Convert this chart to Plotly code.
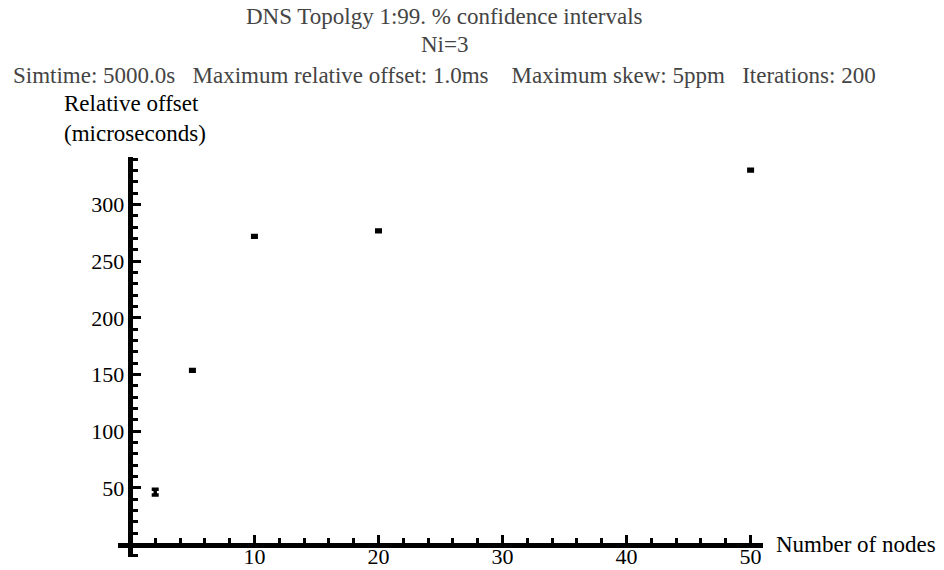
import plotly.graph_objects as go

# Data
nodes = [2, 5, 10, 20, 50]
offset_us = [46.2, 153.7, 272.0, 276.8, 330.4]
ci_half = [2.5, 0.8, 0.8, 0.8, 0.8]

x_tickvals = [10, 20, 30, 40, 50]
y_tickvals = [50, 100, 150, 200, 250, 300]

title_lines = [
    "DNS Topolgy 1:99. % confidence intervals",
    "Ni=3",
    "Simtime: 5000.0s   Maximum relative offset: 1.0ms    Maximum skew: 5ppm   Iterations: 200",
]

FONT = "Liberation Serif, Times New Roman, serif"
FS = 23
TFS = 22
XR = [-1, 51]
YR = [-11, 342]

fig = go.Figure()
fig.add_trace(go.Scatter(
    x=nodes, y=offset_us, mode="markers",
    marker=dict(size=1, color="black"),
    error_y=dict(type="data", array=ci_half, visible=True,
                 color="black", thickness=3.5, width=3.5),
    showlegend=False, hoverinfo="x+y",
))

fig.update_layout(
    width=944, height=570,
    margin=dict(l=118, r=181, t=157, b=13),
    plot_bgcolor="white", paper_bgcolor="white",
    font=dict(family=FONT, size=FS, color="black"),
    xaxis=dict(
        range=XR, showgrid=False, zeroline=False, automargin=False,
        showline=True, linecolor="black", linewidth=4.5,
        anchor="free", position=(0 - YR[0]) / (YR[1] - YR[0]),
        tickvals=x_tickvals, ticks="inside", ticklen=8, tickwidth=3, tickcolor="black",
        minor=dict(dtick=2, tick0=0, ticks="inside", ticklen=5, tickwidth=3, tickcolor="black"),
        tickfont=dict(family=FONT, size=TFS, color="black"),
        ticklabelstandoff=-10,
    ),
    yaxis=dict(
        range=YR, showgrid=False, zeroline=False, automargin=False,
        showline=True, linecolor="black", linewidth=4.5,
        anchor="free", position=(0 - XR[0]) / (XR[1] - XR[0]),
        tickvals=y_tickvals, ticks="inside", ticklen=8, tickwidth=3, tickcolor="black",
        minor=dict(dtick=10, tick0=0, ticks="inside", ticklen=5, tickwidth=3, tickcolor="black"),
        tickfont=dict(family=FONT, size=TFS, color="black"),
    ),
)

title_y = [17, 45, 76]
for txt, yp in zip(title_lines, title_y):
    fig.add_annotation(text=txt, xref="paper", yref="paper",
                       x=(444 - 118) / 645, y=1 + (157 - yp) / 400,
                       xanchor="center", yanchor="middle", showarrow=False,
                       font=dict(family=FONT, size=FS, color="#444444"))

fig.add_annotation(text="Relative offset<br>(microseconds)", xref="paper", yref="paper",
                   x=(62 - 118) / 645, y=1 + (157 - 118) / 400,
                   xanchor="left", yanchor="middle", align="left", showarrow=False,
                   font=dict(family=FONT, size=FS, color="black"))
fig.add_annotation(text="Number of nodes", xref="paper", yref="y",
                   x=(774 - 118) / 645, y=0,
                   xanchor="left", yanchor="middle", showarrow=False,
                   font=dict(family=FONT, size=FS, color="black"))

fig.write_html("out.html")
